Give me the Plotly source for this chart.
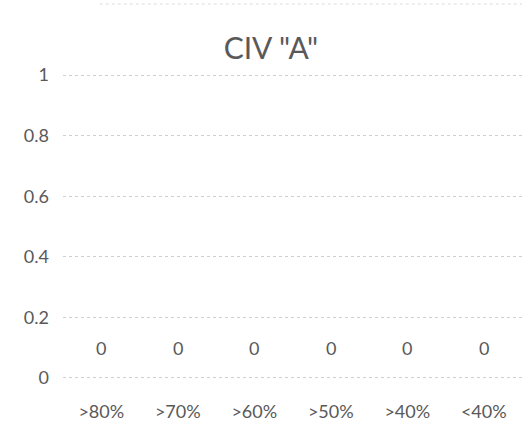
import plotly.graph_objects as go

categories = [">80%", ">70%", ">60%", ">50%", ">40%", "<40%"]
values = [0, 0, 0, 0, 0, 0]
y_ticks = [0, 0.2, 0.4, 0.6, 0.8, 1]
y_tick_text = ["0", "0.2", "0.4", "0.6", "0.8", "1"]

text_color = "#595959"
font_family = "Lato, 'Open Sans', sans-serif"

fig = go.Figure()
fig.add_trace(go.Bar(
    x=categories, y=values,
    marker=dict(color="#5b9bd5", line=dict(width=0)),
    opacity=0,
    showlegend=False,
    hoverinfo="skip",
))

# value labels above each bar
for cat, val in zip(categories, values):
    fig.add_annotation(
        x=cat, y=val, text=str(val), showarrow=False,
        yshift=30, font=dict(size=18, color=text_color, family=font_family),
    )

fig.update_layout(
    width=525, height=437,
    margin=dict(l=63, r=3, t=72, b=56),
    paper_bgcolor="white", plot_bgcolor="white",
    title=dict(text='CIV "A"', x=0.516, xanchor="center", y=0.89, yanchor="middle",
               font=dict(size=30, color=text_color, family=font_family)),
    font=dict(family=font_family, color=text_color, size=18),
    xaxis=dict(showgrid=False, showline=False, ticks="", ticklabelstandoff=18,
               tickfont=dict(size=18, color=text_color)),
    yaxis=dict(range=[-0.01, 1.01], tickvals=y_ticks, ticktext=y_tick_text,
               showgrid=True, gridcolor="#cfcfcf", griddash="dot", gridwidth=1,
               zeroline=False, showline=False, ticks="", ticklabelstandoff=13,
               tickfont=dict(size=18, color=text_color)),
    bargap=0.4,
)

# faint chart border along the top
fig.add_shape(type="line", xref="paper", yref="paper", x0=0.08, x1=1.0, y0=1.22, y1=1.22,
              line=dict(color="#dcdcdc", width=1, dash="dot"))

fig.write_html("out.html")
